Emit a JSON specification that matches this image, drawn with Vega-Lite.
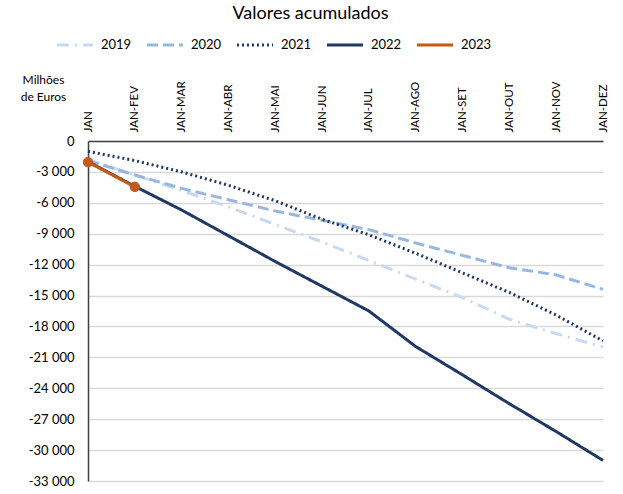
{
  "$schema": "https://vega.github.io/schema/vega-lite/v6.json",
  "autosize": "none",
  "width": 515,
  "height": 340,
  "padding": {"left": 88, "top": 141, "right": 20, "bottom": 13},
  "background": "white",
  "title": {"text": "Valores acumulados", "fontSize": 18, "fontWeight": "normal", "font": "Lato", "color": "#000000", "anchor": "middle", "dx": -35, "dy": 2},
  "data": {"values": [
    {"month": "JAN", "year": "2019", "value": -1800},
    {"month": "JAN-FEV", "year": "2019", "value": -3300},
    {"month": "JAN-MAR", "year": "2019", "value": -4800},
    {"month": "JAN-ABR", "year": "2019", "value": -6400},
    {"month": "JAN-MAI", "year": "2019", "value": -8100},
    {"month": "JAN-JUN", "year": "2019", "value": -9800},
    {"month": "JAN-JUL", "year": "2019", "value": -11600},
    {"month": "JAN-AGO", "year": "2019", "value": -13400},
    {"month": "JAN-SET", "year": "2019", "value": -15200},
    {"month": "JAN-OUT", "year": "2019", "value": -17300},
    {"month": "JAN-NOV", "year": "2019", "value": -18700},
    {"month": "JAN-DEZ", "year": "2019", "value": -20000},
    {"month": "JAN", "year": "2020", "value": -1900},
    {"month": "JAN-FEV", "year": "2020", "value": -3300},
    {"month": "JAN-MAR", "year": "2020", "value": -4600},
    {"month": "JAN-ABR", "year": "2020", "value": -5700},
    {"month": "JAN-MAI", "year": "2020", "value": -6800},
    {"month": "JAN-JUN", "year": "2020", "value": -7700},
    {"month": "JAN-JUL", "year": "2020", "value": -8600},
    {"month": "JAN-AGO", "year": "2020", "value": -9900},
    {"month": "JAN-SET", "year": "2020", "value": -11100},
    {"month": "JAN-OUT", "year": "2020", "value": -12300},
    {"month": "JAN-NOV", "year": "2020", "value": -13000},
    {"month": "JAN-DEZ", "year": "2020", "value": -14400},
    {"month": "JAN", "year": "2021", "value": -1000},
    {"month": "JAN-FEV", "year": "2021", "value": -1900},
    {"month": "JAN-MAR", "year": "2021", "value": -3000},
    {"month": "JAN-ABR", "year": "2021", "value": -4300},
    {"month": "JAN-MAI", "year": "2021", "value": -5800},
    {"month": "JAN-JUN", "year": "2021", "value": -7600},
    {"month": "JAN-JUL", "year": "2021", "value": -9100},
    {"month": "JAN-AGO", "year": "2021", "value": -10900},
    {"month": "JAN-SET", "year": "2021", "value": -12800},
    {"month": "JAN-OUT", "year": "2021", "value": -14700},
    {"month": "JAN-NOV", "year": "2021", "value": -16900},
    {"month": "JAN-DEZ", "year": "2021", "value": -19400},
    {"month": "JAN", "year": "2022", "value": -2000},
    {"month": "JAN-FEV", "year": "2022", "value": -4400},
    {"month": "JAN-MAR", "year": "2022", "value": -6700},
    {"month": "JAN-ABR", "year": "2022", "value": -9200},
    {"month": "JAN-MAI", "year": "2022", "value": -11700},
    {"month": "JAN-JUN", "year": "2022", "value": -14100},
    {"month": "JAN-JUL", "year": "2022", "value": -16500},
    {"month": "JAN-AGO", "year": "2022", "value": -19950},
    {"month": "JAN-SET", "year": "2022", "value": -22700},
    {"month": "JAN-OUT", "year": "2022", "value": -25500},
    {"month": "JAN-NOV", "year": "2022", "value": -28200},
    {"month": "JAN-DEZ", "year": "2022", "value": -31000},
    {"month": "JAN", "year": "2023", "value": -2050},
    {"month": "JAN-FEV", "year": "2023", "value": -4450}
  ]},
  "encoding": {
    "x": {
      "field": "month", "type": "nominal",
      "scale": {"type": "point", "padding": 0, "domain": ["JAN", "JAN-FEV", "JAN-MAR", "JAN-ABR", "JAN-MAI", "JAN-JUN", "JAN-JUL", "JAN-AGO", "JAN-SET", "JAN-OUT", "JAN-NOV", "JAN-DEZ"]},
      "axis": {"orient": "top", "title": null, "labelAngle": -90, "ticks": false, "tickSize": 0, "labelPadding": 9, "grid": false, "domainColor": "#404040", "domainWidth": 1.5, "labelFontSize": 11.5, "labelColor": "#000000", "labelFont": "Lato"}
    },
    "y": {
      "field": "value", "type": "quantitative",
      "scale": {"domain": [-33000, 0], "nice": false, "zero": false},
      "axis": {
        "values": [0, -3000, -6000, -9000, -12000, -15000, -18000, -21000, -24000, -27000, -30000, -33000],
        "format": ",.0f",
        "ticks": false, "labelPadding": 14, "domainColor": "#404040", "domainWidth": 1.5,
        "grid": true, "gridColor": "#d9d9d9", "gridWidth": 1.3,
        "labelFontSize": 13, "labelColor": "#000000", "labelFont": "Lato",
        "title": ["Milhões", "de Euros"], "titleAngle": 0, "titleAlign": "center", "titleBaseline": "alphabetic",
        "titleX": -45, "titleY": -58, "titleFontSize": 12, "titleFontWeight": "normal", "titleColor": "#000000", "titleFont": "Lato", "titleLineHeight": 17
      }
    }
  },
  "layer": [
    {
      "mark": {"type": "line", "strokeCap": "butt"},
      "encoding": {
        "color": {"field": "year", "type": "nominal", "scale": {"domain": ["2019", "2020", "2021", "2022", "2023"], "range": ["#c8daf0", "#97b6e0", "#203864", "#203864", "#c55a11"]},
          "legend": {"title": null, "orient": "none", "legendX": -33, "legendY": -116, "direction": "horizontal", "symbolType": "stroke", "symbolSize": 1300, "symbolStrokeWidth": 2.5, "labelFontSize": 13, "labelFont": "Lato", "labelColor": "#000000", "columnPadding": 8, "labelOffset": 6}},
        "strokeDash": {"field": "year", "type": "nominal", "scale": {"domain": ["2019", "2020", "2021", "2022", "2023"], "range": [[12, 6, 2, 6], [11, 5], [2, 3], [1, 0], [1, 0]]},
          "legend": {"title": null, "orient": "none", "legendX": -33, "legendY": -116, "direction": "horizontal", "symbolType": "stroke", "symbolSize": 1300, "symbolStrokeWidth": 2.5, "labelFontSize": 13, "labelFont": "Lato", "labelColor": "#000000", "columnPadding": 8, "labelOffset": 6}},
        "strokeWidth": {"field": "year", "type": "nominal", "scale": {"domain": ["2019", "2020", "2021", "2022", "2023"], "range": [3, 3, 2.2, 2.5, 2.5]}, "legend": null}
      }
    },
    {
      "transform": [{"filter": "datum.year == '2023'"}],
      "mark": {"type": "circle", "size": 90, "fill": "#c55a11", "stroke": "#c0504d", "strokeWidth": 1, "opacity": 1}
    }
  ],
  "config": {
    "locale": {"number": {"decimal": ",", "thousands": " ", "grouping": [3], "currency": ["", " €"], "minus": "-"}},
    "font": "Lato",
    "view": {"stroke": null}
  }
}
